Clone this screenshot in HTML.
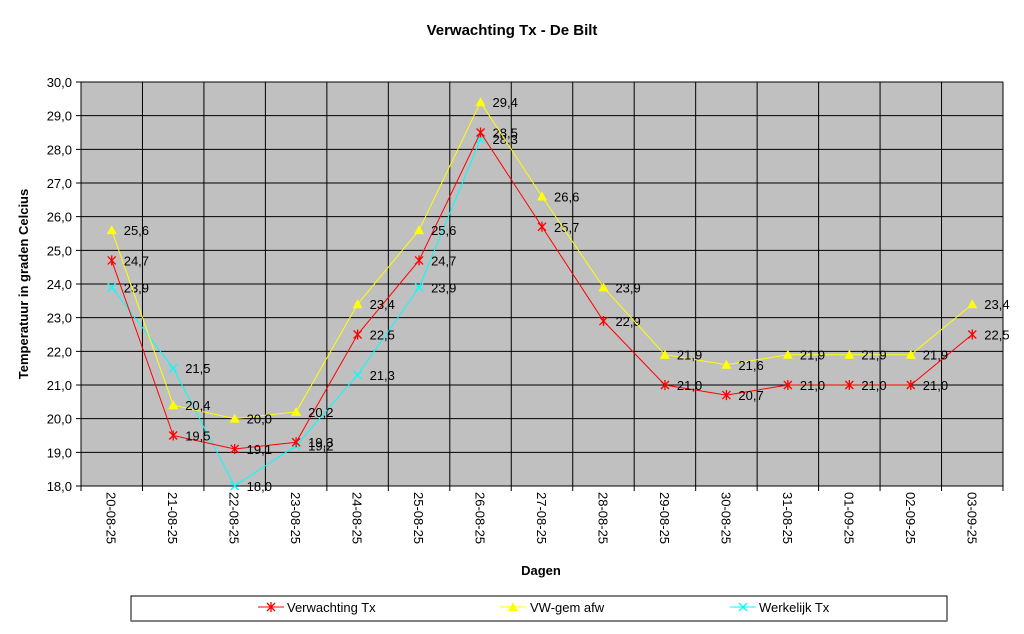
<!DOCTYPE html>
<html><head><meta charset="utf-8"><style>
body{margin:0;background:#fff;font-family:"Liberation Sans",Arial,sans-serif}
svg text{font-family:"Liberation Sans",Arial,sans-serif}
</style></head><body>
<svg width="1024" height="629" viewBox="0 0 1024 629">
<rect width="1024" height="629" fill="#fff"/>
<text x="512" y="35" text-anchor="middle" font-size="15" font-weight="bold">Verwachting Tx - De Bilt</text>
<rect x="81" y="82" width="922" height="404" fill="#c0c0c0" stroke="#808080"/>
<g id="grid"></g>
<g id="axes"></g>
<g id="series"></g>
<text transform="translate(28,284) rotate(-90)" text-anchor="middle" font-size="13" font-weight="bold">Temperatuur in graden Celcius</text>
<text x="541" y="575" text-anchor="middle" font-size="13" font-weight="bold">Dagen</text>
<g>
<rect x="131" y="596" width="816" height="25" fill="#fff" stroke="#000"/>
<line x1="131" y1="621" x2="947" y2="621" stroke="#808080" stroke-width="2"/>
<g>
<line x1="258" y1="607" x2="284" y2="607" stroke="#ff0000"/>
<path d="M267,603 L275,611 M275,603 L267,611 M271,602 L271,612" stroke="#ff0000" stroke-width="1.3"/>
<text x="287" y="612" font-size="13">Verwachting Tx</text></g>
<g>
<line x1="500" y1="607" x2="526" y2="607" stroke="#ffff00"/>
<polygon points="513,602 518,611 508,611" fill="#ffff00"/>
<text x="530" y="612" font-size="13">VW-gem afw</text></g>
<g>
<line x1="730" y1="607" x2="756" y2="607" stroke="#00ffff"/>
<path d="M739,603 L747,611 M747,603 L739,611" stroke="#00ffff" stroke-width="1.3"/>
<text x="759" y="612" font-size="13">Werkelijk Tx</text></g>
</g>
</svg>
<script>
const categories=["20-08-25","21-08-25","22-08-25","23-08-25","24-08-25","25-08-25","26-08-25","27-08-25","28-08-25","29-08-25","30-08-25","31-08-25","01-09-25","02-09-25","03-09-25"];
const verwachting=[24.7,19.5,19.1,19.3,22.5,24.7,28.5,25.7,22.9,21.0,20.7,21.0,21.0,21.0,22.5];
const vwgem=[25.6,20.4,20.0,20.2,23.4,25.6,29.4,26.6,23.9,21.9,21.6,21.9,21.9,21.9,23.4];
const werkelijk=[23.9,21.5,18.0,19.2,21.3,23.9,28.3];
const yTicks=[18,19,20,21,22,23,24,25,26,27,28,29,30];
const NS="http://www.w3.org/2000/svg";
const L=81,R=1003,T=82,B=486,yMin=18,yMax=30;
const step=(R-L)/categories.length;
const xs=i=>L+step*(i+0.5);
const ys=v=>B-(v-yMin)/(yMax-yMin)*(B-T);
const fmt=v=>v.toFixed(1).replace('.',',');
function mk(tag,attrs,parent){const e=document.createElementNS(NS,tag);for(const k in attrs)e.setAttribute(k,attrs[k]);parent.appendChild(e);return e;}
const grid=document.getElementById('grid'),axes=document.getElementById('axes'),ser=document.getElementById('series');
yTicks.forEach(v=>{
 const l=mk('line',{x1:76,x2:R,y1:ys(v),y2:ys(v),stroke:'#000','stroke-width':1},grid);
 
 
 const t=mk('text',{x:72,y:ys(v)+5,'text-anchor':'end','font-size':13},axes);
 t.textContent=fmt(v);
 
 
});
for(let i=0;i<=categories.length;i++){
 const x=L+step*i;
 const l=mk('line',{x1:x,x2:x,y1:T,y2:B+5,stroke:'#000','stroke-width':1},grid);
 
 
}
categories.forEach((c,i)=>{
 const t=mk('text',{transform:`translate(${xs(i)-5},492) rotate(90)`,'font-size':13},axes);
 t.textContent=c;
 
 
});
function series(data,color,name,marker){
 const g=mk('g',{},ser);
 
 
 const pl=mk('polyline',{points:data.map((v,i)=>xs(i)+','+ys(v)).join(' '),fill:'none',stroke:color,'stroke-width':1},g);
 
 
 data.forEach((v,i)=>{
  const x=xs(i),y=ys(v);
  let m;
  if(marker==='tri')m=mk('polygon',{points:`${x},${y-5} ${x+5},${y+4} ${x-5},${y+4}`,fill:color},g);
  else if(marker==='star')m=mk('path',{d:`M${x-4},${y-4}L${x+4},${y+4}M${x+4},${y-4}L${x-4},${y+4}M${x},${y-5}L${x},${y+5}`,stroke:color,'stroke-width':1.3},g);
  else m=mk('path',{d:`M${x-4},${y-4}L${x+4},${y+4}M${x+4},${y-4}L${x-4},${y+4}`,stroke:color,'stroke-width':1.3},g);
  
  
  const t=mk('text',{x:x+12,y:y+5,'font-size':13},g);
  t.textContent=fmt(v);
  
  
 });
}
series(werkelijk,'#00ffff','werkelijk-tx','x');
series(verwachting,'#ff0000','verwachting-tx','star');
series(vwgem,'#ffff00','vw-gem-afw','tri');
</script>
</body></html>
